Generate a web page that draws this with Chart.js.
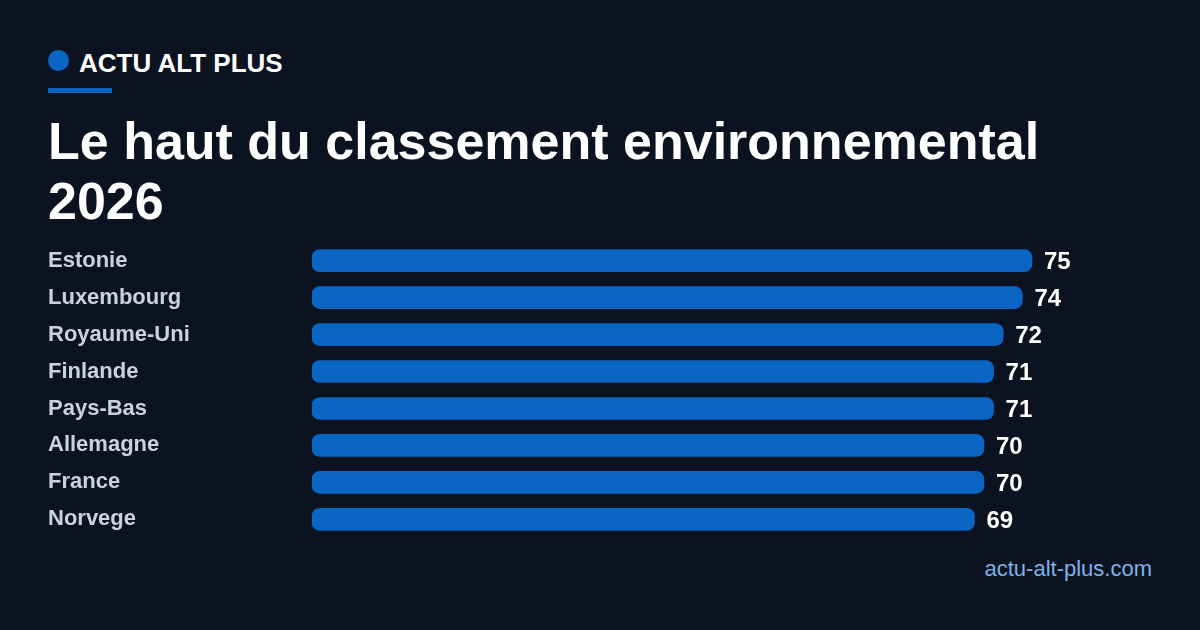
<!DOCTYPE html>
<html>
<head>
<meta charset="utf-8">
<script src="https://cdn.jsdelivr.net/npm/chart.js@4"></script>
<style>
  html, body { margin: 0; padding: 0; }
  body { width: 1200px; height: 630px; background: #0b1220; position: relative; overflow: hidden; font-family: "Liberation Sans", Arial, sans-serif; }
  .dot { position: absolute; left: 48px; top: 50px; width: 21px; height: 21px; border-radius: 50%; background: #0b66c3; }
  .brand { position: absolute; left: 79px; top: 50px; font-size: 26px; line-height: 26px; font-weight: 700; color: #ffffff; white-space: nowrap; }
  .rule { position: absolute; left: 48px; top: 88px; width: 64px; height: 5px; background: #0b66c3; }
  .title { position: absolute; left: 48px; top: 111px; width: 1104px; font-size: 52px; line-height: 60px; font-weight: 700; color: #ffffff; margin: 0; }
  .footer { position: absolute; right: 48px; top: 558px; font-size: 22px; line-height: 22px; color: #7fb2ea; white-space: nowrap; }
  .chartbox { position: absolute; left: 48px; top: 229px; width: 1104px; height: 322px; }
  canvas { display: block; }
</style>
</head>
<body>
<div class="dot"></div>
<div class="brand">ACTU ALT PLUS</div>
<div class="rule"></div>
<h1 class="title">Le haut du classement environnemental 2026</h1>
<div class="chartbox"><canvas id="c" width="1104" height="322"></canvas></div>
<div class="footer">actu-alt-plus.com</div>
<script>
const categories = ["Estonie", "Luxembourg", "Royaume-Uni", "Finlande", "Pays-Bas", "Allemagne", "France", "Norvege"];
const scores = [75, 74, 72, 71, 71, 70, 70, 69];
const axisMax = 87.5;

const valueLabels = {
  id: 'valueLabels',
  afterDatasetsDraw(chart) {
    const ctx = chart.ctx;
    const meta = chart.getDatasetMeta(0);
    ctx.save();
    ctx.font = '700 24px "Liberation Sans", Arial, sans-serif';
    ctx.fillStyle = '#ffffff';
    ctx.textAlign = 'left';
    ctx.textBaseline = 'middle';
    meta.data.forEach((bar, i) => {
      ctx.fillText(String(scores[i]), bar.x + 12, bar.y + 2);
    });
    ctx.restore();
  }
};

new Chart(document.getElementById('c'), {
  type: 'bar',
  data: {
    labels: categories,
    datasets: [{
      data: scores,
      backgroundColor: '#0b66c3',
      borderRadius: 8,
      borderSkipped: false,
      barThickness: 22
    }]
  },
  options: {
    responsive: false,
    animation: false,
    indexAxis: 'y',
    layout: { padding: 0 },
    plugins: { legend: { display: false }, tooltip: { enabled: false } },
    scales: {
      x: { display: false, min: 0, max: axisMax },
      y: {
        grid: { display: false, drawTicks: false },
        border: { display: false },
        afterFit(scale) { scale.width = 264; },
        ticks: {
          crossAlign: 'far',
          padding: 0,
          color: '#c9d3e0',
          font: { family: '"Liberation Sans", Arial, sans-serif', size: 22, weight: '700' }
        }
      }
    }
  },
  plugins: [valueLabels]
});
</script>
</body>
</html>
